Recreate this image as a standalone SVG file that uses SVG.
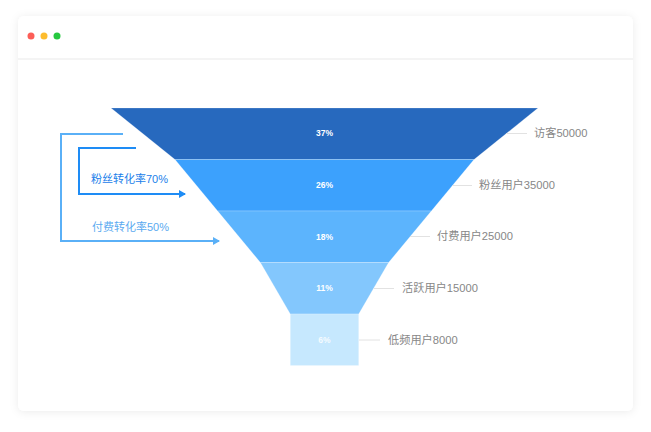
<svg xmlns="http://www.w3.org/2000/svg" width="651" height="432" viewBox="0 0 651 432">
<defs>
<filter id="sh" x="-10%" y="-10%" width="120%" height="120%">
<feDropShadow dx="0" dy="1" stdDeviation="4" flood-color="#000" flood-opacity="0.08"/>
</filter>
<marker id="arrIn" markerWidth="8" markerHeight="8" refX="6" refY="4" orient="auto" markerUnits="userSpaceOnUse">
<path d="M0,0 L7,4 L0,8 Z" fill="#1e8cf5"/>
</marker>
<marker id="arrOut" markerWidth="8" markerHeight="8" refX="6" refY="4" orient="auto" markerUnits="userSpaceOnUse">
<path d="M0,0 L7,4 L0,8 Z" fill="#5ab0f7"/>
</marker>
<style>
.pct{font-family:"Liberation Sans",Arial,sans-serif;font-size:8.5px;font-weight:bold;fill:#fff;text-anchor:middle;}
.lab{font-family:"Liberation Sans","Noto Sans CJK SC",sans-serif;font-size:11.2px;fill:#878787;}
.lead{stroke:#e2e2e2;stroke-width:1;fill:none;}
.layer{stroke:#ffffff;stroke-opacity:0.25;stroke-width:0.8;}
.conv{font-family:"Liberation Sans","Noto Sans CJK SC",sans-serif;font-size:11px;}
</style>
</defs>
<rect width="651" height="432" fill="#ffffff"/>
<g id="window">
<rect x="18" y="16" width="615" height="395" rx="6" fill="#ffffff" filter="url(#sh)"/>
<line x1="18" y1="59" x2="633" y2="59" stroke="#f1f1f1" stroke-width="1.5"/>
<circle cx="31" cy="36" r="3.5" fill="#fc5e57"/>
<circle cx="44" cy="36" r="3.5" fill="#fdbc2e"/>
<circle cx="57" cy="36" r="3.5" fill="#27c840"/>
</g>
<g id="layer-visitor">
<polygon class="layer" points="111,108 538,108 474,159.5 175,159.5" fill="#2769be"/>
<text class="pct" x="324.5" y="136">37%</text>
</g>
<g id="layer-fans">
<polygon class="layer" points="175,159.5 474,159.5 431.3,211 217.7,211" fill="#3ca1fd"/>
<text class="pct" x="324.5" y="188">26%</text>
</g>
<g id="layer-paid">
<polygon class="layer" points="217.7,211 431.3,211 388.6,262.5 260.4,262.5" fill="#5cb4fd"/>
<text class="pct" x="324.5" y="239.5">18%</text>
</g>
<g id="layer-active">
<polygon class="layer" points="260.4,262.5 388.6,262.5 358.7,314 290.3,314" fill="#83c7fd"/>
<text class="pct" x="324.5" y="291">11%</text>
</g>
<g id="layer-low">
<polygon class="layer" points="290.3,314 358.7,314 358.7,365.5 290.3,365.5" fill="#c6e8fe"/>
<text class="pct" x="324.5" y="342.5" fill-opacity="0.85">6%</text>
</g>
<g id="labels">
<text class="lab" x="534" y="137">访客50000</text>
<text class="lab" x="479" y="189">粉丝用户35000</text>
<text class="lab" x="437" y="240">付费用户25000</text>
<text class="lab" x="402" y="292">活跃用户15000</text>
<text class="lab" x="388" y="344">低频用户8000</text>
</g>
<g id="connectors">
<line class="lead" x1="506" y1="133.5" x2="527" y2="133.5"/>
<line class="lead" x1="452.5" y1="185.5" x2="472" y2="185.5"/>
<line class="lead" x1="410" y1="236.5" x2="430" y2="236.5"/>
<line class="lead" x1="374" y1="288.5" x2="394" y2="288.5"/>
<line class="lead" x1="359" y1="340" x2="380" y2="340"/>
<polyline points="123,134 61,134 61,241 219,241" fill="none" stroke="#5ab0f7" stroke-width="2" marker-end="url(#arrOut)"/>
<polyline points="136,148 79,148 79,194 185,194" fill="none" stroke="#1e8cf5" stroke-width="2" marker-end="url(#arrIn)"/>
</g>
<g id="conversions">
<text class="conv" x="91" y="183" fill="#1a80ea">粉丝转化率70%</text>
<text class="conv" x="92" y="231" fill="#5aaaf0">付费转化率50%</text>
</g>
</svg>
